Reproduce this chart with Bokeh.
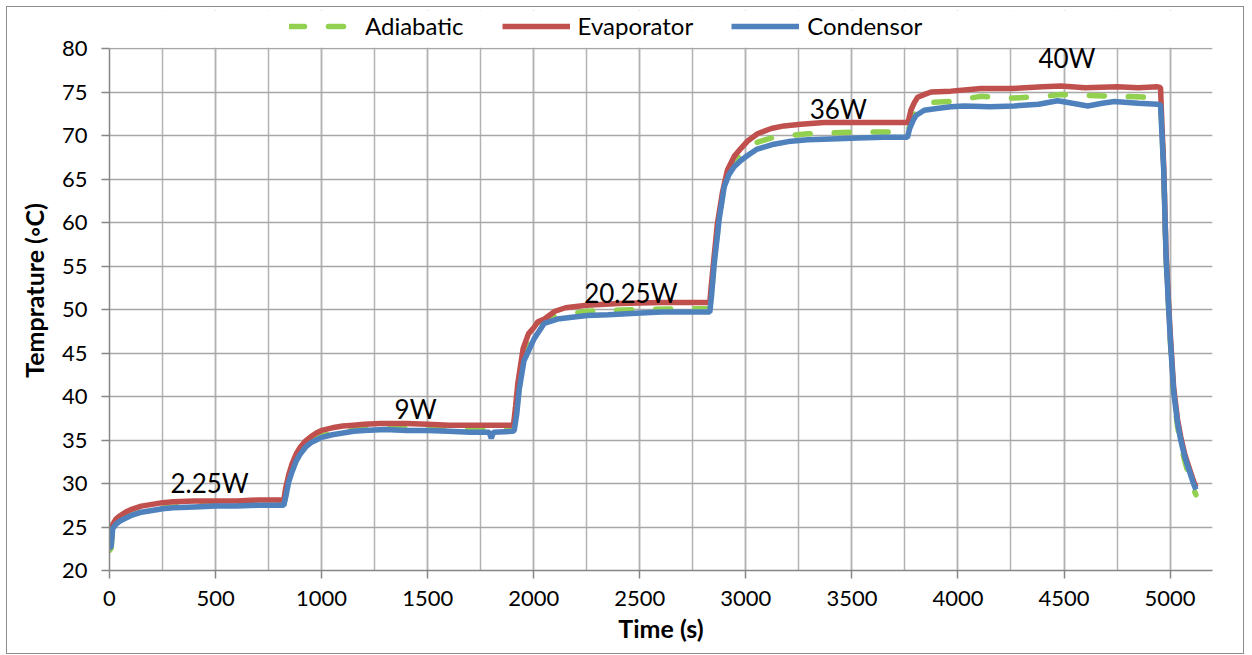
from bokeh.plotting import figure
from bokeh.models import Legend, LegendItem, Label, SingleIntervalTicker
from bokeh.embed import file_html
from bokeh.resources import INLINE

# ---------------- data ----------------
time_cond = [0, 8, 15, 30, 50, 75, 100, 150, 200, 250, 300, 400, 500, 600, 700, 800, 822,
             832, 845, 860, 880, 900, 925, 950, 975, 1000, 1050, 1100, 1150, 1200, 1300,
             1400, 1500, 1600, 1700, 1790, 1800, 1810, 1900, 1908, 1920, 1931, 1954,
             2001, 2049, 2112, 2180, 2253, 2350, 2505, 2600, 2700, 2830, 2838, 2850,
             2858, 2875, 2898, 2920, 2945, 2975, 3008, 3050, 3090, 3132, 3200, 3291,
             3400, 3527, 3650, 3762, 3772, 3790, 3802, 3841, 3900, 3967, 4030, 4150,
             4266, 4380, 4470, 4540, 4612, 4680, 4737, 4850, 4941, 4955, 4962, 4970,
             4981, 5000, 5017, 5035, 5050, 5070, 5090, 5110, 5122]
temp_cond = [22.5, 22.8, 24.8, 25.3, 25.7, 26.0, 26.3, 26.7, 26.9, 27.1, 27.2, 27.3, 27.4,
             27.4, 27.5, 27.5, 27.5, 28.6, 30.2, 31.3, 32.6, 33.4, 34.2, 34.7, 35.0, 35.3,
             35.6, 35.8, 36.0, 36.1, 36.2, 36.1, 36.1, 36.0, 35.9, 35.9, 35.2, 35.9, 36.0,
             36.1, 38.0, 40.7, 44.1, 46.6, 48.4, 48.9, 49.1, 49.3, 49.4, 49.6, 49.7, 49.7,
             49.7, 51.5, 55.0, 56.8, 60.5, 64.1, 65.5, 66.4, 67.1, 67.7, 68.4, 68.7, 69.0,
             69.3, 69.5, 69.6, 69.7, 69.8, 69.8, 70.8, 71.8, 72.3, 72.9, 73.1, 73.3, 73.4,
             73.3, 73.4, 73.6, 74.0, 73.7, 73.4, 73.7, 73.9, 73.7, 73.6, 73.5, 70.0, 66.0,
             56.0, 47.0, 40.5, 37.0, 35.0, 33.0, 31.5, 30.0, 29.3]

time_evap = [0, 8, 15, 30, 50, 75, 100, 150, 200, 250, 300, 400, 500, 600, 700, 800, 822,
             830, 845, 860, 880, 900, 925, 950, 975, 1000, 1050, 1100, 1150, 1200, 1278,
             1400, 1500, 1600, 1700, 1800, 1900, 1905, 1915, 1925, 1950, 1975, 2000,
             2020, 2050, 2100, 2150, 2250, 2400, 2600, 2830, 2836, 2850, 2866, 2890,
             2913, 2945, 2976, 3010, 3055, 3120, 3180, 3260, 3369, 3500, 3650, 3765,
             3778, 3795, 3810, 3840, 3873, 3967, 4108, 4250, 4400, 4486, 4600, 4750,
             4850, 4941, 4955, 4962, 4970, 4981, 5000, 5017, 5035, 5050, 5070, 5090,
             5110, 5122]
temp_evap = [23.0, 23.3, 25.3, 25.9, 26.3, 26.7, 27.0, 27.4, 27.6, 27.8, 27.9, 28.0, 28.0,
             28.0, 28.1, 28.1, 28.1, 29.4, 31.0, 32.2, 33.4, 34.2, 34.9, 35.4, 35.8, 36.1,
             36.4, 36.6, 36.7, 36.8, 36.9, 36.9, 36.8, 36.7, 36.7, 36.7, 36.7, 36.8, 39.0,
             41.5, 45.5, 47.2, 47.9, 48.6, 48.9, 49.8, 50.2, 50.5, 50.7, 50.8, 50.8, 52.5,
             56.0, 59.9, 63.5, 66.0, 67.6, 68.5, 69.4, 70.2, 70.8, 71.1, 71.3, 71.5, 71.5,
             71.5, 71.5, 72.9, 73.8, 74.4, 74.7, 75.0, 75.1, 75.4, 75.4, 75.6, 75.7, 75.5,
             75.6, 75.5, 75.6, 75.5, 71.0, 66.5, 56.5, 47.5, 41.0, 37.4, 35.4, 33.3, 31.8,
             30.3, 29.6]

time_adia = [0, 8, 15, 30, 50, 100, 200, 300, 500, 800, 822, 832, 860, 900, 950, 1000,
             1100, 1200, 1300, 1500, 1700, 1900, 1908, 1920, 1931, 1954, 2001, 2049,
             2112, 2253, 2505, 2830, 2838, 2858, 2898, 2945, 3008, 3050, 3132, 3291,
             3400, 3527, 3650, 3765, 3775, 3802, 3841, 3880, 3960, 4030, 4108, 4266,
             4400, 4486, 4612, 4760, 4900, 4955, 4962, 4970, 4981, 5000, 5017, 5035,
             5050, 5070, 5090, 5110, 5122]
temp_adia = [22.3, 22.6, 24.9, 25.4, 25.8, 26.4, 27.0, 27.3, 27.5, 27.6, 27.6, 28.8,
             31.5, 33.6, 34.9, 35.5, 36.0, 36.3, 36.4, 36.3, 36.2, 36.3, 36.4, 38.3, 41.0,
             44.5, 47.0, 48.8, 49.3, 49.8, 50.0, 50.1, 51.9, 57.3, 64.5, 66.9, 68.3, 69.2,
             69.8, 70.2, 70.3, 70.4, 70.4, 70.4, 71.4, 72.9, 73.4, 73.8, 73.9, 74.2, 74.5,
             74.3, 74.5, 74.7, 74.6, 74.5, 74.4, 74.3, 70.3, 66.2, 56.0, 46.8, 40.2, 36.6,
             34.5, 32.5, 30.9, 29.4, 28.7]

x_ticks_interval = 500
y_ticks_interval = 5
y_axis_min, y_axis_max = 20, 80
x_axis_min, x_axis_max = 0, 5200

power_labels = ["2.25W", "9W", "20.25W", "36W", "40W"]
power_label_t = [472, 1443, 2458, 3436, 4514]
power_label_T = [30.1, 38.6, 51.9, 73.0, 78.9]

RED = "#C0504D"
BLUE = "#4F81BD"
GREEN = "#92D050"
FONT = "Lato"

# frame spans page y 10..570; the band above 80 holds the legend
PX_PER_DEG = 8.7
y_top = y_axis_max + (48 - 10) / PX_PER_DEG

p = figure(width=1238, height=648, output_backend="svg", toolbar_location=None,
           x_range=(x_axis_min, x_axis_max), y_range=(y_axis_min, y_top),
           min_border_left=102, min_border_right=33, min_border_top=3,
           min_border_bottom=85, background_fill_color="white",
           border_fill_color="white")
p.outline_line_color = None
p.styles = {"margin-left": "6px", "margin-top": "6px",
            "border": "1px solid #8c8c8c"}

# white band hiding the vertical grid above the 80 line
p.quad(left=[x_axis_min], right=[x_axis_max], bottom=[y_axis_max + 0.1], top=[y_top],
       fill_color="white", line_color=None)

r_adia = p.line(time_adia, temp_adia, line_color=GREEN, line_width=5.5,
                line_dash="15 24", line_cap="round")
r_evap = p.line(time_evap, temp_evap, line_color=RED, line_width=5.5)
r_cond = p.line(time_cond, temp_cond, line_color=BLUE, line_width=5.5)

# axes
xt = SingleIntervalTicker(interval=x_ticks_interval, num_minor_ticks=2)
yt = SingleIntervalTicker(interval=y_ticks_interval, num_minor_ticks=0)
p.xaxis.ticker = xt
p.yaxis.ticker = yt
p.xgrid.ticker = xt
p.ygrid.ticker = yt
p.yaxis.bounds = (y_axis_min, y_axis_max)
for ax in (p.xaxis, p.yaxis):
    ax.axis_line_color = "#868686"
    ax.axis_line_width = 1.5
    ax.major_tick_line_color = "#868686"
    ax.major_tick_line_width = 1.5
    ax.major_tick_out = 8
    ax.major_tick_in = 0
    ax.minor_tick_line_color = None
    ax.major_label_text_font = FONT
    ax.major_label_text_font_size = "22px"
    ax.major_label_text_color = "black"
    ax.axis_label_text_font = FONT
    ax.axis_label_text_font_size = "25px"
    ax.axis_label_text_font_style = "bold"
    ax.axis_label_text_color = "black"
p.xaxis.axis_label = "Time (s)"
p.yaxis.axis_label = "Temprature (\u25e6C)"
p.xaxis.major_label_standoff = 12
p.yaxis.major_label_standoff = 14
p.xaxis.axis_label_standoff = 4
p.yaxis.axis_label_standoff = 10

p.xgrid.grid_line_color = "#b3b3b3"
p.xgrid.grid_line_width = 1.5
p.xgrid.minor_grid_line_color = "#b3b3b3"
p.xgrid.minor_grid_line_width = 1.5
p.ygrid.grid_line_color = "#a6a6a6"
p.ygrid.grid_line_width = 1.5

# power annotations
for txt, tx, ty in zip(power_labels, power_label_t, power_label_T):
    p.add_layout(Label(x=tx, y=ty, text=txt, text_align="center",
                       text_baseline="middle", text_font=FONT,
                       text_font_size="26px", text_color="black"))

# legend in the band above the 80 line
legend = Legend(items=[LegendItem(label="Adiabatic", renderers=[r_adia]),
                       LegendItem(label="Evaporator", renderers=[r_evap]),
                       LegendItem(label="Condensor", renderers=[r_cond])],
                orientation="horizontal", location=(180, 530),
                label_text_font=FONT, label_text_font_size="24px",
                label_text_color="black", glyph_width=68, glyph_height=22,
                label_standoff=8, spacing=38, padding=0, margin=0,
                border_line_color=None, background_fill_alpha=0)
p.add_layout(legend, "center")

open("out.html", "w").write(file_html(p, INLINE))
